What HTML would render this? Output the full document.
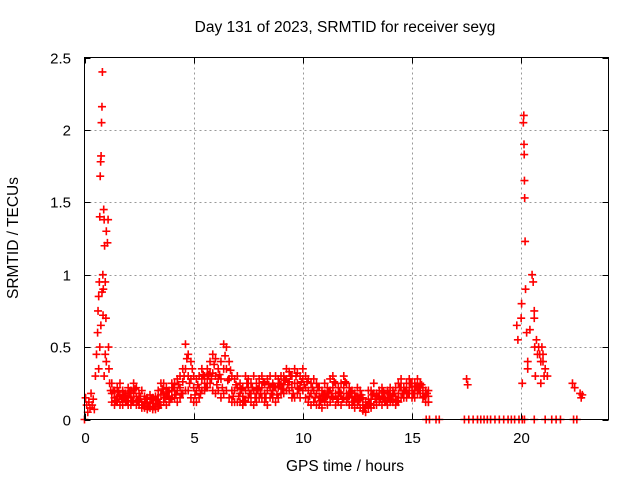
<!DOCTYPE html>
<html><head><meta charset="utf-8"><style>
body{margin:0;background:#fff;}
svg{display:block;font-family:"Liberation Sans",sans-serif;font-size:12px;}
</style></head><body>
<svg id="chart" width="640" height="480">
<rect width="640" height="480" fill="#fff"/>
<g id="grid"></g>
<g id="marks"></g>
<rect x="84.5" y="57.5" width="524" height="362" fill="none" stroke="#000"/>
<g id="ticks"></g>
<text x="345" y="32" text-anchor="middle" font-size="15.5">Day 131 of 2023, SRMTID for receiver seyg</text>
<text x="345" y="471" text-anchor="middle" font-size="15.5">GPS time / hours</text>
<text x="18" y="238" text-anchor="middle" font-size="15.5" transform="rotate(-90 18 238)">SRMTID / TECUs</text>
</svg>
<script>
const xTicks=[0,5,10,15,20];
const yTicks=[0,0.5,1,1.5,2,2.5];
const yTickLabels=["0","0.5","1","1.5","2","2.5"];
const baseStart=1.25, baseStep=0.125;
const baseHi=[0.25,0.2,0.22,0.25,0.2,0.18,0.22,
0.2,0.25,0.22,0.18,0.2,0.16,0.15,0.17,
0.15,0.16,0.2,0.25,0.25,0.22,0.2,0.25,
0.25,0.28,0.3,0.35,0.52,0.45,0.4,0.3,
0.28,0.3,0.35,0.3,0.35,0.4,0.45,0.42,
0.35,0.4,0.52,0.5,0.4,0.3,0.28,0.3,
0.25,0.22,0.3,0.28,0.25,0.3,0.25,0.28,
0.3,0.25,0.28,0.3,0.25,0.3,0.28,0.3,
0.3,0.35,0.33,0.3,0.35,0.32,0.3,0.35,
0.3,0.28,0.25,0.28,0.25,0.22,0.2,0.25,
0.22,0.28,0.3,0.25,0.22,0.25,0.3,0.25,
0.22,0.2,0.18,0.22,0.2,0.15,0.12,0.2,
0.2,0.25,0.18,0.2,0.22,0.18,0.2,0.22,
0.2,0.22,0.25,0.28,0.22,0.25,0.28,0.25,
0.25,0.28,0.25,0.22,0.2,0.2];
const baseMid=[0.18,0.15,0.16,0.17,0.15,0.15,0.16,
0.15,0.18,0.16,0.14,0.12,0.12,0.11,0.12,
0.11,0.11,0.14,0.17,0.18,0.16,0.16,0.2,
0.2,0.2,0.22,0.26,0.35,0.3,0.28,0.22,
0.2,0.22,0.28,0.25,0.28,0.32,0.32,0.3,
0.28,0.28,0.35,0.35,0.28,0.2,0.2,0.22,
0.18,0.16,0.2,0.22,0.18,0.2,0.18,0.22,
0.22,0.18,0.2,0.22,0.2,0.22,0.22,0.24,
0.24,0.28,0.26,0.22,0.25,0.25,0.22,0.28,
0.22,0.2,0.18,0.2,0.18,0.16,0.14,0.18,
0.16,0.2,0.22,0.18,0.16,0.18,0.22,0.18,
0.16,0.15,0.13,0.16,0.14,0.1,0.08,0.14,
0.14,0.18,0.14,0.16,0.16,0.15,0.15,0.17,
0.16,0.16,0.18,0.22,0.18,0.2,0.22,0.2,
0.2,0.22,0.22,0.18,0.16,0.16];
const baseLo=[0.12,0.1,0.12,0.1,0.1,0.12,0.1,
0.1,0.12,0.1,0.1,0.08,0.08,0.07,0.08,
0.07,0.07,0.08,0.1,0.12,0.1,0.12,0.15,
0.15,0.12,0.15,0.18,0.2,0.2,0.15,0.12,
0.12,0.15,0.2,0.2,0.22,0.25,0.2,0.18,
0.2,0.15,0.18,0.2,0.15,0.12,0.12,0.12,
0.12,0.1,0.12,0.15,0.12,0.1,0.12,0.15,
0.15,0.12,0.1,0.15,0.15,0.12,0.15,0.18,
0.18,0.2,0.2,0.15,0.15,0.18,0.15,0.2,
0.15,0.12,0.1,0.12,0.1,0.1,0.08,0.12,
0.1,0.12,0.15,0.1,0.12,0.1,0.15,0.12,
0.1,0.1,0.08,0.1,0.08,0.06,0.05,0.08,
0.08,0.1,0.1,0.12,0.1,0.12,0.1,0.12,
0.12,0.1,0.12,0.15,0.15,0.15,0.18,0.15,
0.15,0.18,0.18,0.15,0.12,0.12];
const altStart=1.3125;
const baseAlt=[0.2,0.13,0.19,0.14,0.17,0.13,0.19,
0.13,0.21,0.13,0.16,0.1,0.14,0.09,0.14,
0.09,0.13,0.1,0.21,0.15,0.19,0.14,0.22,
0.17,0.24,0.18,0.3,0.42,0.25,0.35,0.17,
0.24,0.18,0.31,0.22,0.31,0.28,0.38,0.24,
0.31,0.22,0.44,0.27,0.34,0.16,0.24,0.16,
0.21,0.13,0.25,0.18,0.22,0.15,0.21,0.18,
0.26,0.15,0.24,0.18,0.23,0.17,0.25,0.21,
0.27,0.24,0.3,0.18,0.3,0.21,0.26,0.24,
0.26,0.16,0.22,0.15,0.22,0.13,0.17,0.15,
0.19,0.16,0.26,0.14,0.19,0.14,0.26,0.15,
0.19,0.12,0.16,0.13,0.17,0.08,0.1,0.11,
0.17,0.14,0.16,0.14,0.19,0.13,0.18,0.14,
0.18,0.13,0.22,0.18,0.2,0.18,0.25,0.18,
0.23,0.2,0.24,0.16,0.18];
const extraT=[0,0.05,0.1,0.15,0.2,0.25,0.3,0.35,0.4,0.45,0.5,0.55,0.6,0.62,0.65,0.68,0.7,0.72,0.74,0.76,0.78,0.8,0.82,0.84,0.86,0.88,0.9,0.92,0.95,0.98,1.0,1.05,1.08,1.1,1.12,1.15,1.2,0.75,0.85,0.9,0.8,0.7,0.65,0.95,1.0,
15.75,17.5,17.55,19.8,19.85,20.0,20.02,20.05,20.1,20.12,20.13,20.14,20.15,20.16,20.18,20.2,20.25,20.3,20.5,20.55,20.6,20.62,20.65,20.7,20.75,20.8,20.85,20.9,20.95,21.0,21.05,21.1,21.2,20.4,20.3,20.6,20.9,21.0,22.35,22.45,22.7,22.75,22.8];
const extraV=[0,0.15,0.1,0.05,0.12,0.08,0.18,0.1,0.14,0.07,0.3,0.45,0.6,0.75,0.85,0.95,1.4,1.68,1.78,1.82,2.05,2.16,2.4,1.0,0.9,1.45,1.38,1.2,0.95,0.7,1.3,1.22,1.38,0.5,0.35,0.25,0.2,0.65,0.72,0.3,0.88,0.5,0.35,0.45,0.4,
0.12,0.28,0.24,0.65,0.55,0.7,0.8,0.25,2.05,2.1,1.9,1.83,1.65,1.53,1.23,0.9,0.6,0.4,1.0,0.95,0.75,0.5,0.3,0.55,0.45,0.5,0.45,0.4,0.5,0.4,0.3,0.35,0.3,0.62,0.35,0.7,0.25,0.45,0.25,0.22,0.18,0.15,0.17];
const zeroT=[15.65,15.8,16.1,16.25,17.4,17.6,17.8,18.0,18.15,18.3,18.45,18.6,18.8,19.0,19.2,19.4,19.55,19.7,19.9,20.05,20.15,20.6,21.1,21.4,21.6,21.8,22.4,22.55];

const X0=84.5,XW=524,XMAX=24,Y0=419.5,YH=362,YMAX=2.5;
const sx=t=>X0+t/XMAX*XW, sy=v=>Y0-v/YMAX*YH;
const NS="http://www.w3.org/2000/svg";
const grid=document.getElementById('grid'),ticks=document.getElementById('ticks'),marks=document.getElementById('marks');
function line(p,x1,y1,x2,y2,st,dash){const l=document.createElementNS(NS,'line');l.setAttribute('x1',x1);l.setAttribute('y1',y1);l.setAttribute('x2',x2);l.setAttribute('y2',y2);l.setAttribute('stroke',st);if(dash)l.setAttribute('stroke-dasharray',dash);p.appendChild(l);return l;}
function txt(p,x,y,s,anchor){const t=document.createElementNS(NS,'text');t.setAttribute('x',x);t.setAttribute('y',y);t.setAttribute('text-anchor',anchor);t.setAttribute('font-size','15');t.textContent=s;p.appendChild(t);return t;}
xTicks.forEach(v=>{const x=Math.round(sx(v))+0.5;
 if(v>0){const g=line(grid,x,57.5,x,419.5,'#999','2,3');
 
 }
 line(ticks,x,419.5,x,413.5,'#000');line(ticks,x,57.5,x,63.5,'#000');
 const t=txt(ticks,x,443,String(v),'middle');
 
 });
yTicks.forEach((v,i)=>{const y=Math.round(sy(v))+0.5;
 if(v>0&&v<YMAX){const g=line(grid,84.5,y,608.5,y,'#999','2,3');
 
 }
 line(ticks,84.5,y,90.5,y,'#000');line(ticks,608.5,y,602.5,y,'#000');
 const t=txt(ticks,71,y+5,yTickLabels[i],'end');
 
 });
function plus(t,v){const x=sx(t),y=sy(v);const p=document.createElementNS(NS,'path');
 p.setAttribute('d',`M${x-4},${y}h8M${x},${y-4}v8`);p.setAttribute('stroke','#f00');p.setAttribute('stroke-width','1.6');
 
 
 marks.appendChild(p);}
[baseHi,baseMid,baseLo].forEach(arr=>arr.forEach((v,i)=>plus(baseStart+i*baseStep,v)));
baseAlt.forEach((v,i)=>plus(altStart+i*baseStep,v));
extraT.forEach((t,i)=>plus(t,extraV[i]));
zeroT.forEach(t=>plus(t,0));
</script>
</body></html>
